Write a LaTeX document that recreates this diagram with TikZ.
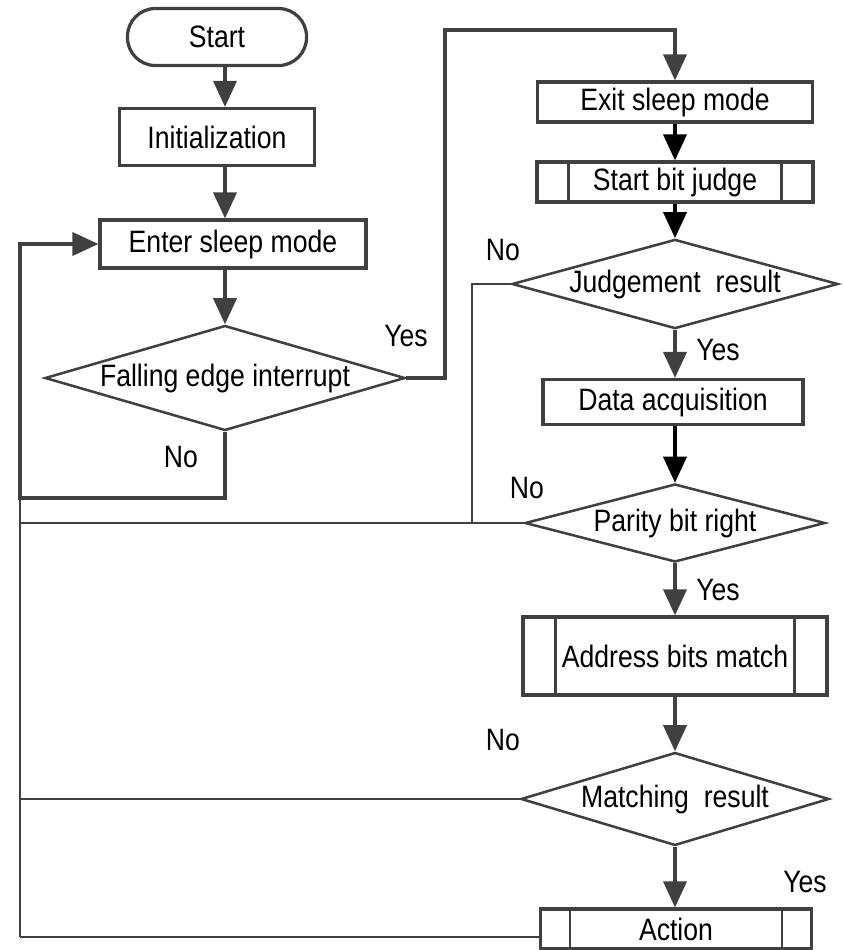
\documentclass[tikz,border=0pt]{standalone}
\usepackage{fontspec}
\setmainfont{Liberation Sans}[FakeStretch=0.86]
\usetikzlibrary{shapes.geometric,arrows.meta}
\definecolor{linegray}{HTML}{404040}
\newcommand{\flowfont}{\fontsize{22}{25}\selectfont}
\tikzset{
  box/.style={draw=linegray, line width=2.3pt, fill=white, inner sep=0pt, font=\flowfont},
  term/.style={box, rounded corners=0.7cm},
  decide/.style={diamond, draw=linegray, line width=1.8pt, fill=white, inner sep=0pt,
    shape aspect=3.5, font=\flowfont},
  arr/.style={draw=linegray, line width=2.2pt, -{Triangle[length=0.65cm,width=0.58cm]}},
  darr/.style={arr, draw=black, -{Triangle[length=0.65cm,width=0.58cm,fill=black]}},
  ret/.style={draw=linegray, line width=1.7pt},
  lbl/.style={font=\flowfont, inner sep=0pt}
}
\begin{document}
\begin{tikzpicture}[x=0.025cm, y=-0.025cm]
        \useasboundingbox (0,0) rectangle (844,950);
        %Left column
        \node[term, minimum width=4.475cm, minimum height=1.425cm] (start) at (217,37) {Start};
        \node[box, minimum width=4.875cm, minimum height=1.425cm] (init) at (217,137) {Initialization};
        \node[box, minimum width=6.65cm, minimum height=1.2cm] (enter) at (233,244) {Enter sleep mode};
        \node[decide, minimum width=9cm, minimum height=2.625cm] (fei) at (225,378) {Falling edge interrupt};
        \draw[arr] (start.south -| fei.north) -- (init.north -| fei.north);
        \draw[arr] (init.south -| fei.north) -- (enter.north -| fei.north);
        \draw[arr] (enter.south -| fei.north) -- (fei.north);
        %Right column
        \node[box, minimum width=6.875cm, minimum height=1cm] (exit) at (675,102) {Exit sleep mode};
        \node[box, minimum width=6.9cm, minimum height=1cm] (sbj) at (675,182) {Start bit judge};
        \node[decide, minimum width=8.15cm, minimum height=2.075cm] (judge) at (675,284) {Judgement\ \ result};
        \node[box, minimum width=6.5cm, minimum height=1.125cm] (acq) at (673,402) {Data acquisition};
        \node[decide, minimum width=7.5cm, minimum height=1.95cm] (parity) at (675,523) {Parity bit right};
        \node[box, minimum width=7.6cm, minimum height=1.95cm] (addr) at (675,656) {Address bits match};
        \node[decide, minimum width=7.7cm, minimum height=2.325cm] (match) at (675,799) {Matching\ \ result};
        \node[box, minimum width=6.775cm, minimum height=1cm] (action) at (676,929) {Action};
        \foreach \n/\d in {sbj/0.825, addr/0.85, action/0.78}
        {
          \draw[linegray, line width=2pt] ([xshift=\d cm]\n.north west) -- ([xshift=\d cm]\n.south west);
          \draw[linegray, line width=2pt] ([xshift=-\d cm]\n.north east) -- ([xshift=-\d cm]\n.south east);
        }
        \draw[darr] (exit.south -| judge.north) -- (sbj.north -| judge.north);
        \draw[darr] (sbj.south -| judge.north) -- (judge.north);
        \draw[arr] (judge.south) -- (acq.north -| judge.south);
        \draw[darr] (acq.south -| parity.north) -- (parity.north);
        \draw[arr] (parity.south) -- (addr.north);
        \draw[arr] (addr.south) -- (match.north);
        \draw[arr] (match.south) -- (action.north -| match.south);
        %Yes branch to exit
        \coordinate (yesup) at (445,30);
        \draw[arr] (fei.east) -| (yesup) -| (exit.north -| judge.north);
        %No branch back to sleep
        \coordinate (bus) at (20,498);
        \coordinate (busend) at (20,937);
        \draw[arr] (fei.south) |- (bus) |- (enter.west);
        \draw[ret] (bus) -- (busend);
        \coordinate (jdrop) at (472,523);
        \draw[ret] (judge.west) -| (jdrop);
        \draw[ret] (parity.west) -- (parity.west -| bus);
        \draw[ret] (match.west) -- (match.west -| bus);
        \draw[ret] (action.west |- busend) -- (busend);
        %Labels
        \node[lbl] (yes1) at (406,336) {Yes};
        \node[lbl] (no1) at (181,457) {No};
        \node[lbl] (no2) at (503,250) {No};
        \node[lbl] (yes2) at (718,350) {Yes};
        \node[lbl] (no3) at (527,488) {No};
        \node[lbl] (yes3) at (718,590) {Yes};
        \node[lbl] (no4) at (503,740) {No};
        \node[lbl] (yes4) at (805,882) {Yes};
\end{tikzpicture}
\end{document}
